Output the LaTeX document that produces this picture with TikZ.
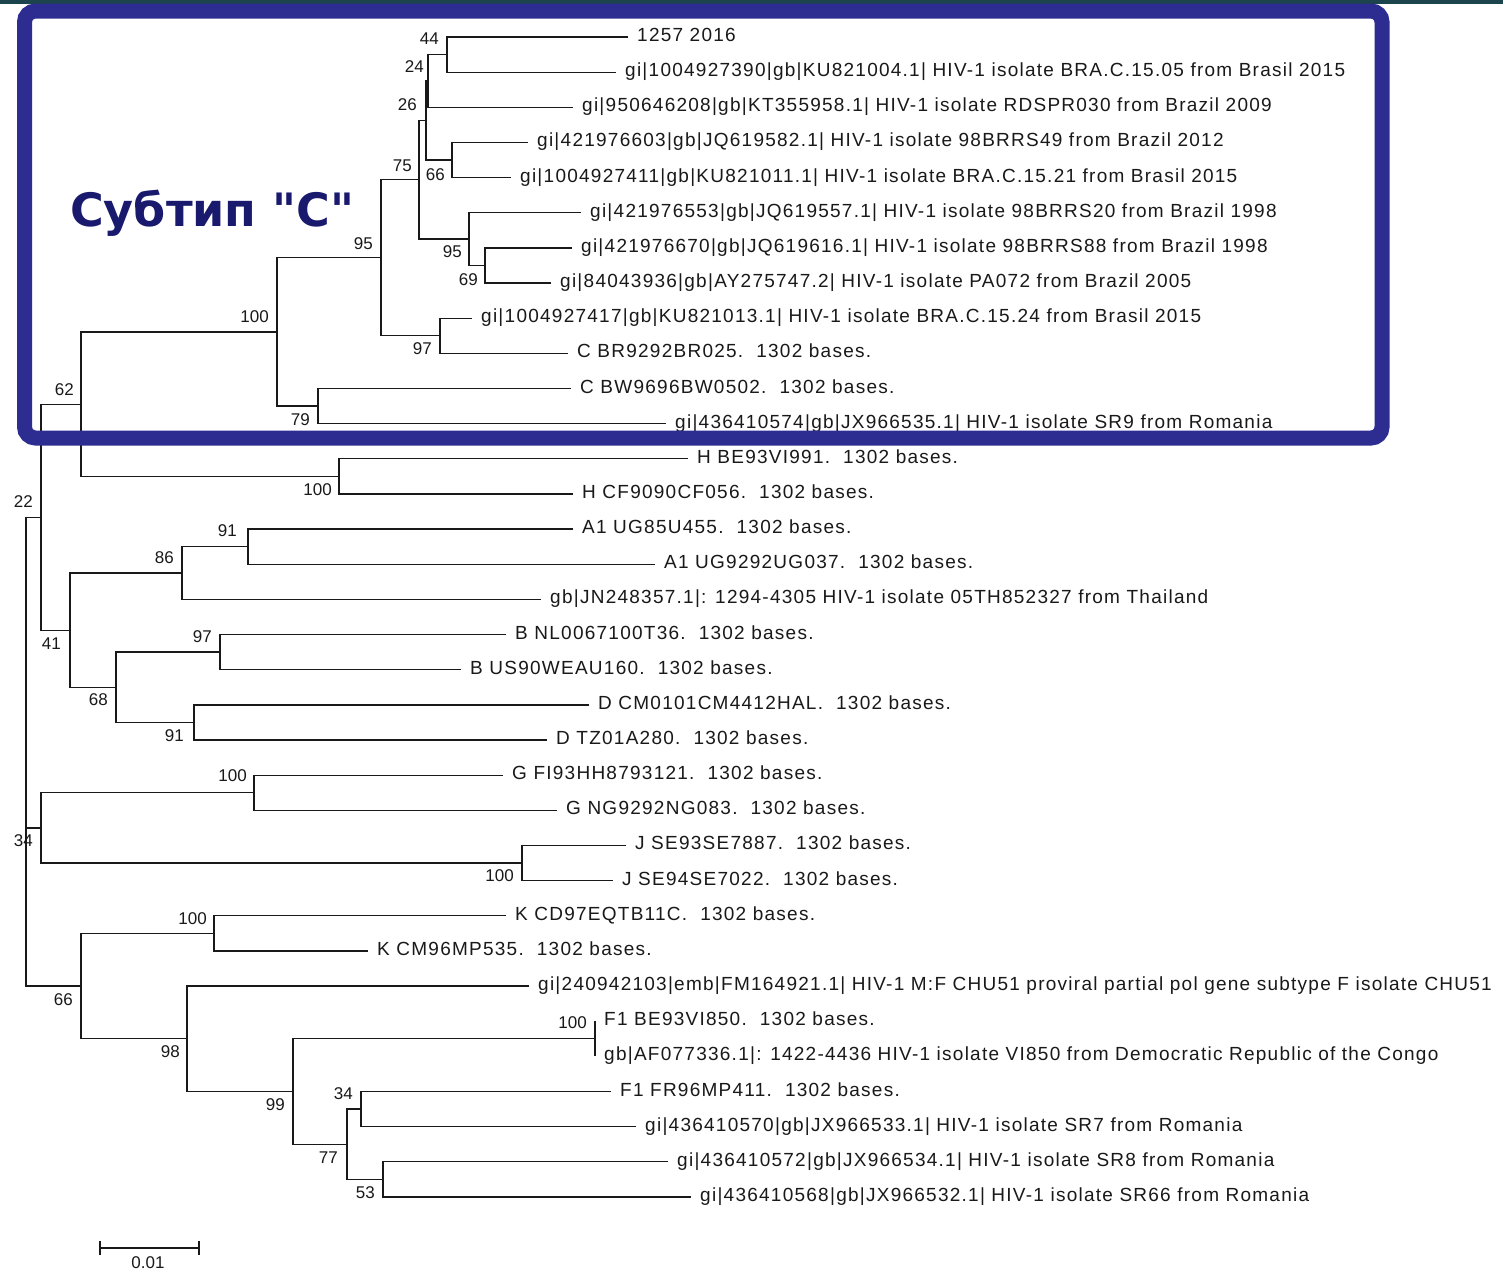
\documentclass[tikz,border=0pt]{standalone}
\usepackage{fontspec}
\setmainfont{Liberation Sans}
\newfontfamily\labfont[LetterSpace=6.6]{Liberation Sans}
\newfontfamily\subfont{DejaVu Sans}
\usetikzlibrary{calc}
\definecolor{boxblue}{RGB}{45,45,145}
\definecolor{subnavy}{RGB}{25,25,110}
\definecolor{topbar}{RGB}{28,68,76}
\definecolor{ink}{RGB}{25,25,25}
\newcommand\tleaf[4]{%
  \coordinate (t#1) at ({#3-9},{37+35.15*(#2-1)});
  \node[leaflab] (L#1) at (#3,{37+35.15*(#2-1)+4.5}) {#4};}
\newcommand\treenode[4]{%
  \coordinate (tmp) at ($(#3)!0.5!(#4)$);
  \coordinate (xr) at (#2,0);
  \coordinate (#1) at (tmp -| xr);
  \draw[br] (#1) |- (#3);
  \draw[br] (#1) |- (#4);}
\begin{document}
\begin{tikzpicture}[x=1pt,y=-1pt,
  br/.style={line width=1.3pt, draw=ink},
  leaflab/.style={anchor=base west, inner sep=0pt, font=\labfont\fontsize{19}{22}\selectfont, text=ink},
  boot/.style={anchor=east, inner sep=0pt, font=\fontsize{17}{20}\selectfont, text=ink}]
\useasboundingbox (0,0) rectangle (1503,1272);
\fill[white] (0,0) rectangle (1503,1272);
\fill[topbar] (0,0) rectangle (1503,3.5);
% leaves
\tleaf{1}{1}{637}{1257 2016}
\tleaf{2}{2}{625}{gi|1004927390|gb|KU821004.1| HIV-1 isolate BRA.C.15.05 from Brasil 2015}
\tleaf{3}{3}{582}{gi|950646208|gb|KT355958.1| HIV-1 isolate RDSPR030 from Brazil 2009}
\tleaf{4}{4}{537}{gi|421976603|gb|JQ619582.1| HIV-1 isolate 98BRRS49 from Brazil 2012}
\tleaf{5}{5}{520}{gi|1004927411|gb|KU821011.1| HIV-1 isolate BRA.C.15.21 from Brasil 2015}
\tleaf{6}{6}{590}{gi|421976553|gb|JQ619557.1| HIV-1 isolate 98BRRS20 from Brazil 1998}
\tleaf{7}{7}{581}{gi|421976670|gb|JQ619616.1| HIV-1 isolate 98BRRS88 from Brazil 1998}
\tleaf{8}{8}{560}{gi|84043936|gb|AY275747.2| HIV-1 isolate PA072 from Brazil 2005}
\tleaf{9}{9}{481}{gi|1004927417|gb|KU821013.1| HIV-1 isolate BRA.C.15.24 from Brasil 2015}
\tleaf{10}{10}{577}{C BR9292BR025.\ \ 1302 bases.}
\tleaf{11}{11}{580}{C BW9696BW0502.\ \ 1302 bases.}
\tleaf{12}{12}{675}{gi|436410574|gb|JX966535.1| HIV-1 isolate SR9 from Romania}
\tleaf{13}{13}{697}{H BE93VI991.\ \ 1302 bases.}
\tleaf{14}{14}{582}{H CF9090CF056.\ \ 1302 bases.}
\tleaf{15}{15}{582}{A1 UG85U455.\ \ 1302 bases.}
\tleaf{16}{16}{664}{A1 UG9292UG037.\ \ 1302 bases.}
\tleaf{17}{17}{550}{gb|JN248357.1|: 1294-4305 HIV-1 isolate 05TH852327 from Thailand}
\tleaf{18}{18}{515}{B NL0067100T36.\ \ 1302 bases.}
\tleaf{19}{19}{470}{B US90WEAU160.\ \ 1302 bases.}
\tleaf{20}{20}{598}{D CM0101CM4412HAL.\ \ 1302 bases.}
\tleaf{21}{21}{556}{D TZ01A280.\ \ 1302 bases.}
\tleaf{22}{22}{512}{G FI93HH8793121.\ \ 1302 bases.}
\tleaf{23}{23}{566}{G NG9292NG083.\ \ 1302 bases.}
\tleaf{24}{24}{635}{J SE93SE7887.\ \ 1302 bases.}
\tleaf{25}{25}{622}{J SE94SE7022.\ \ 1302 bases.}
\tleaf{26}{26}{515}{K CD97EQTB11C.\ \ 1302 bases.}
\tleaf{27}{27}{377}{K CM96MP535.\ \ 1302 bases.}
\tleaf{28}{28}{538}{gi|240942103|emb|FM164921.1| HIV-1 M:F CHU51 proviral partial pol gene subtype F isolate CHU51}
\tleaf{29}{29}{604}{F1 BE93VI850.\ \ 1302 bases.}
\tleaf{30}{30}{604}{gb|AF077336.1|: 1422-4436 HIV-1 isolate VI850 from Democratic Republic of the Congo}
\tleaf{31}{31}{620}{F1 FR96MP411.\ \ 1302 bases.}
\tleaf{32}{32}{645}{gi|436410570|gb|JX966533.1| HIV-1 isolate SR7 from Romania}
\tleaf{33}{33}{677}{gi|436410572|gb|JX966534.1| HIV-1 isolate SR8 from Romania}
\tleaf{34}{34}{700}{gi|436410568|gb|JX966532.1| HIV-1 isolate SR66 from Romania}
% internal nodes
\treenode{n44}{447}{t1}{t2}
\treenode{n24}{428}{n44}{t3}
\treenode{n66}{452}{t4}{t5}
\treenode{n26}{426}{n24}{n66}
\treenode{n69}{485}{t7}{t8}
\treenode{n95b}{469}{t6}{n69}
\treenode{n75}{419}{n26}{n95b}
\treenode{n97}{440}{t9}{t10}
\treenode{n95}{381}{n75}{n97}
\treenode{n79}{318}{t11}{t12}
\treenode{n100}{277}{n95}{n79}
\treenode{nH}{339}{t13}{t14}
\treenode{n62}{81}{n100}{nH}
\treenode{n91A}{248}{t15}{t16}
\treenode{n86}{182}{n91A}{t17}
\treenode{n97B}{220}{t18}{t19}
\treenode{n91D}{194}{t20}{t21}
\treenode{n68}{116}{n97B}{n91D}
\treenode{n41}{70}{n86}{n68}
\treenode{n22}{41}{n62}{n41}
\treenode{nG}{254}{t22}{t23}
\treenode{nJ}{522}{t24}{t25}
\treenode{nGJ}{41}{nG}{nJ}
\treenode{nK}{214}{t26}{t27}
\treenode{nF}{595}{t29}{t30}
\treenode{n34F}{361}{t31}{t32}
\treenode{n53}{383}{t33}{t34}
\treenode{n77}{347}{n34F}{n53}
\treenode{n99}{293}{nF}{n77}
\treenode{n98}{187}{t28}{n99}
\treenode{n66K}{81}{nK}{n98}
\treenode{root}{26}{n22}{n66K}
\draw[br] (root) |- (nGJ);
% bootstrap values
\node[boot] (b44) at (439,39) {44};
\node[boot] (b24) at (424,67) {24};
\node[boot] (b26) at (417,105) {26};
\node[boot] (b75) at (412,166) {75};
\node[boot] (b66) at (445,175) {66};
\node[boot] (b95) at (373,244) {95};
\node[boot] (b95b) at (462,252) {95};
\node[boot] (b69) at (478,280) {69};
\node[boot] (b100) at (269,317) {100};
\node[boot] (b97) at (432,349) {97};
\node[boot] (b62) at (74,390) {62};
\node[boot] (b79) at (310,420) {79};
\node[boot] (b100H) at (332,490) {100};
\node[boot] (b22) at (33,502) {22};
\node[boot] (b91A) at (237,531) {91};
\node[boot] (b86) at (174,558) {86};
\node[boot] (b41) at (61,644) {41};
\node[boot] (b97B) at (212,637) {97};
\node[boot] (b68) at (108,700) {68};
\node[boot] (b91D) at (184,736) {91};
\node[boot] (b100G) at (247,776) {100};
\node[boot] (b34) at (33,841) {34};
\node[boot] (b100J) at (514,876) {100};
\node[boot] (b100K) at (207,919) {100};
\node[boot] (b66K) at (73,1000) {66};
\node[boot] (b98) at (180,1052) {98};
\node[boot] (b100F) at (587,1023) {100};
\node[boot] (b99) at (285,1105) {99};
\node[boot] (b34F) at (353,1094) {34};
\node[boot] (b77) at (338,1158) {77};
\node[boot] (b53) at (375,1193) {53};
% subtype box
\draw[boxblue, line width=15pt, rounded corners=11pt] (24.5,11) rectangle (1382,438);
\node[anchor=base west, inner sep=0pt, text=subnavy, font=\subfont\bfseries\fontsize{46}{52}\selectfont] (sub) at (70,226) {Субтип "С"};
% scale bar
\coordinate (sbL) at (100,1248);
\coordinate (sbR) at (199,1248);
\draw[br] (sbL) -- (sbR);
\draw[br] ($(sbL)+(0,-7)$) -- ($(sbL)+(0,7)$);
\draw[br] ($(sbR)+(0,-7)$) -- ($(sbR)+(0,7)$);
\node[inner sep=0pt, text=ink, font=\fontsize{17}{20}\selectfont] (sblab) at (148,1263) {0.01};
\end{tikzpicture}
\end{document}
